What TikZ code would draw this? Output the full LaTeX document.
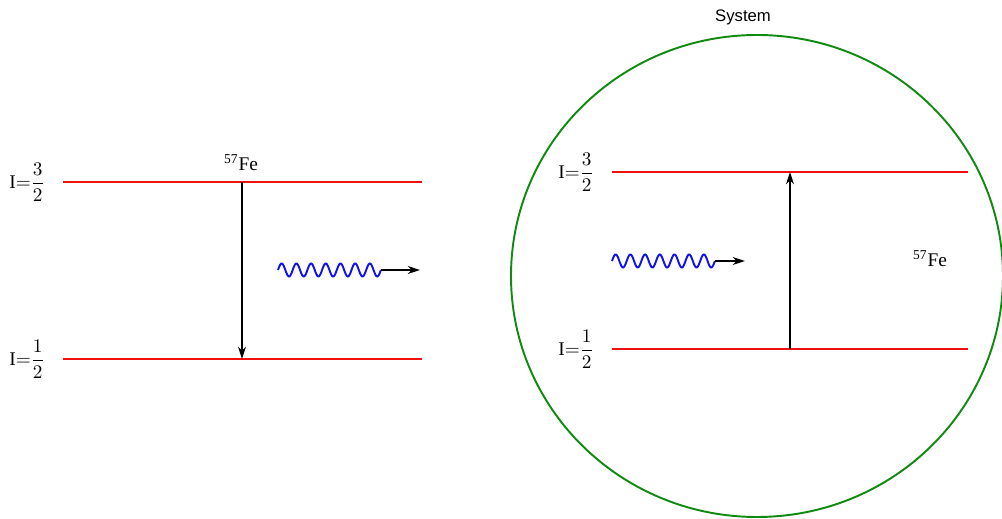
\documentclass[tikz,border=0pt]{standalone}
\usepackage{fontspec}
\usepackage{amsmath}
\setmainfont{Liberation Serif}
\newfontfamily\labelsans{Liberation Sans}
\usetikzlibrary{
    positioning,
    calc,
    arrows.meta
}
\definecolor{NivelRojo}{HTML}{F01010}
\definecolor{OndaAzul}{HTML}{1010F0}
\definecolor{SistemaVerde}{HTML}{108A10}

\tikzset{
    nivel/.style={draw=NivelRojo, line width=1.1pt},
    transicion/.style={draw=black, line width=0.9pt, -{Stealth[length=7pt,width=4.5pt]}},
    onda/.style={draw=OndaAzul, line width=1.1pt},
    rayo/.style={draw=black, line width=0.9pt, -{Stealth[length=7pt,width=4.5pt]}},
    spin/.style={inner sep=0pt, font=\fontsize{11pt}{13pt}\selectfont}
}

\begin{document}
\begin{tikzpicture}[x=0.02cm, y=-0.02cm]
    \useasboundingbox (0,0) rectangle (1002,519);

    % emisor
    \coordinate (eA1) at (63,182);
    \coordinate (eB1) at (422,182);
    \coordinate (eA2) at (63,359);
    \coordinate (eB2) at (422,359);
    \coordinate (eTop) at (242,182);
    \coordinate (eBot) at (242,359);
    \draw[nivel] (eA1) -- (eB1);
    \draw[nivel] (eA2) -- (eB2);
    \draw[transicion] (eTop) -- (eBot);
    \node[spin] (eS32) at (27,182) {I${=}\dfrac{3}{2}$};
    \node[spin] (eS12) at (27,359) {I${=}\dfrac{1}{2}$};
    \node[spin] (eFe) at (241,163) {\textsuperscript{57}Fe};

    % foton emitido
    \coordinate (w1a) at (278,270);
    \coordinate (w1b) at (381,270);
    \coordinate (w1c) at (420,270);
    \begin{scope}[shift={(w1a)}]
        \draw[onda] plot[domain=0:7, samples=160, smooth] ({\x*14.7},{-6.5*sin(\x*360)});
    \end{scope}
    \draw[rayo] (w1b) -- (w1c);

    % sistema absorbente
    \coordinate (sis) at (757,276);
    \draw[SistemaVerde, line width=1.1pt] (sis) ellipse [x radius=246, y radius=241];
    \node[font=\labelsans\fontsize{9.5pt}{11pt}\selectfont] (sisLbl) at (743,17) {System};

    \coordinate (aA1) at (612,172);
    \coordinate (aB1) at (968,172);
    \coordinate (aA2) at (612,349);
    \coordinate (aB2) at (968,349);
    \coordinate (aTop) at (790,172);
    \coordinate (aBot) at (790,349);
    \draw[nivel] (aA1) -- (aB1);
    \draw[nivel] (aA2) -- (aB2);
    \draw[transicion] (aBot) -- (aTop);
    \node[spin] (aS32) at (576,172) {I${=}\dfrac{3}{2}$};
    \node[spin] (aS12) at (576,349) {I${=}\dfrac{1}{2}$};
    \node[spin] (aFe) at (930,259) {\textsuperscript{57}Fe};

    % foton incidente
    \coordinate (w2a) at (612,261);
    \coordinate (w2b) at (715,261);
    \coordinate (w2c) at (745,261);
    \begin{scope}[shift={(w2a)}]
        \draw[onda] plot[domain=0:7, samples=160, smooth] ({\x*14.7},{-6.5*sin(\x*360)});
    \end{scope}
    \draw[rayo] (w2b) -- (w2c);
\end{tikzpicture}
\end{document}
